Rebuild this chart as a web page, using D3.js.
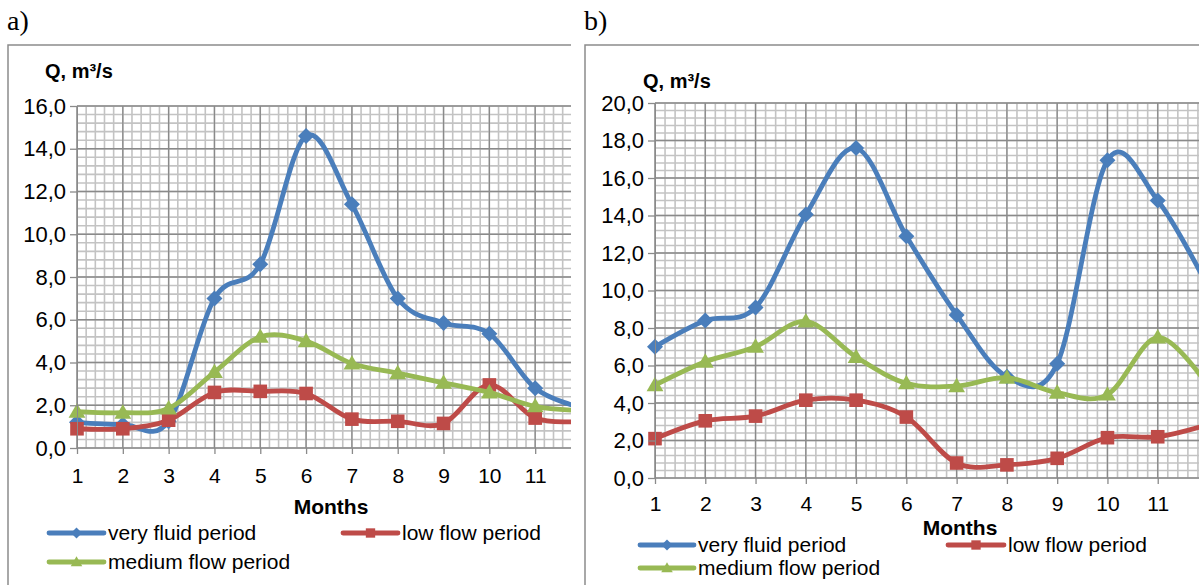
<!DOCTYPE html>
<html>
<head>
<meta charset="utf-8">
<script src="https://d3js.org/d3.v7.min.js"></script>
<style>
  body { margin: 0; background: #fff; }
  text { font-family: "Liberation Sans", Arial, sans-serif; fill: #000; }
</style>
</head>
<body>
<script>
// data
const months = [1, 2, 3, 4, 5, 6, 7, 8, 9, 10, 11, 12];
const seriesNames = ["very fluid period", "low flow period", "medium flow period"];
const seriesColors = ["#4A7EBB", "#BE4B48", "#98B954"];
const seriesMarkers = ["diamond", "square", "triangle"];

const aVeryFluid = [1.2, 1.1, 1.25, 7.0, 8.6, 14.6, 11.4, 7.0, 5.85, 5.35, 2.8, 1.9];
const aLowFlow   = [0.9, 0.9, 1.3, 2.6, 2.65, 2.55, 1.35, 1.25, 1.15, 2.95, 1.4, 1.25];
const aMedium    = [1.7, 1.65, 1.85, 3.55, 5.2, 5.0, 3.95, 3.5, 3.05, 2.6, 1.95, 1.75];

const bVeryFluid = [7.0, 8.4, 9.1, 14.05, 17.6, 12.9, 8.7, 5.4, 6.1, 16.95, 14.8, 10.2];
const bLowFlow   = [2.1, 3.05, 3.3, 4.15, 4.15, 3.25, 0.8, 0.7, 1.05, 2.15, 2.2, 2.85];
const bMedium    = [4.95, 6.2, 7.0, 8.35, 6.45, 5.05, 4.9, 5.35, 4.55, 4.45, 7.5, 4.9];

const svg = d3.select("body").append("svg").attr("width", 1199).attr("height", 585);

const panels = [
  {label: "a)", frameX: 8, frameY: 45, clipRight: 571, yMax: 16,
   xRange: [77, 581], yRange: [448, 106],
   data: [aVeryFluid, aLowFlow, aMedium],
   titleX: 45, titleY: 78, xLabelOffset: 20, monthsX: 331, monthsY: 514,
   legendRows: [533, 562], legendCols: [[49, 104], [343, 398]]},
  {label: "b)", frameX: 585, frameY: 45, clipRight: 1199, yMax: 20,
   xRange: [655, 1208], yRange: [478, 103],
   data: [bVeryFluid, bLowFlow, bMedium],
   titleX: 643, titleY: 88, xLabelOffset: 18, monthsX: 960, monthsY: 535,
   legendRows: [545, 568], legendCols: [[640, 694], [948, 1004]]}
];

function markerPath(type, s) {
  if (type === "diamond") return `M0,${-s}L${s},0L0,${s}L${-s},0Z`;
  if (type === "square") return `M${-s * 0.85},${-s * 0.85}h${s * 1.7}v${s * 1.7}h${-s * 1.7}Z`;
  return `M0,${-s * 1.05}L${s * 1.05},${s * 0.75}L${-s * 1.05},${s * 0.75}Z`;
}

panels.forEach((p, pi) => {
  const x = d3.scaleLinear().domain([1, 12]).range(p.xRange);
  const y = d3.scaleLinear().domain([0, p.yMax]).range(p.yRange);
  const g = svg.append("g");

  // panel letter and frame
  g.append("text").attr("x", p.frameX - 1).attr("y", 30)
    .style("font-family", "'Liberation Serif', 'Times New Roman', serif").style("font-size", "28px")
    .text(p.label);
  g.append("path")
    .attr("d", `M${p.frameX},585V${p.frameY}H${p.clipRight}`)
    .attr("fill", "none").attr("stroke", "#8c8c8c").attr("stroke-width", 1.5);

  const clipId = "clip" + pi;
  svg.append("clipPath").attr("id", clipId).append("rect")
    .attr("x", p.xRange[0] - 10).attr("y", p.yRange[1] - 10)
    .attr("width", p.clipRight - p.xRange[0] + 10).attr("height", p.yRange[0] - p.yRange[1] + 20);

  const plot = g.append("g").attr("clip-path", `url(#${clipId})`);
  const xMaxGrid = x.invert(p.clipRight + 20);

  // minor grid
  const minorX = d3.range(0, Math.ceil((xMaxGrid - 1) * 5) + 1).map(i => 1 + i * 0.2);
  const minorY = d3.range(0, p.yMax * 2.5 + 1).map(i => i * 0.4);
  plot.selectAll(".mx").data(minorX).join("line")
    .attr("x1", d => x(d)).attr("x2", d => x(d))
    .attr("y1", y(0)).attr("y2", y(p.yMax))
    .attr("stroke", "#c3c3c3").attr("stroke-width", 1.6);
  plot.selectAll(".my").data(minorY).join("line")
    .attr("x1", x(1)).attr("x2", x(xMaxGrid))
    .attr("y1", d => y(d)).attr("y2", d => y(d))
    .attr("stroke", "#c3c3c3").attr("stroke-width", 1.6);

  // major grid
  const majorY = d3.range(0, p.yMax + 1, 2);
  plot.selectAll(".gx").data(months).join("line")
    .attr("x1", d => x(d)).attr("x2", d => x(d))
    .attr("y1", y(0)).attr("y2", y(p.yMax))
    .attr("stroke", "#8a8a8a").attr("stroke-width", 1.3);
  plot.selectAll(".gy").data(majorY).join("line")
    .attr("x1", x(1)).attr("x2", x(xMaxGrid))
    .attr("y1", d => y(d)).attr("y2", d => y(d))
    .attr("stroke", "#8a8a8a").attr("stroke-width", 1.3);

  // axes
  const yAxis = d3.axisLeft(y).tickValues(majorY).tickSize(7).tickPadding(4)
    .tickFormat(d => d.toFixed(1).replace(".", ","));
  const ya = g.append("g").attr("transform", `translate(${x(1)},0)`).call(yAxis);
  ya.select(".domain").attr("stroke", "#8a8a8a");
  ya.selectAll(".tick line").attr("stroke", "#8a8a8a").attr("stroke-width", 1.3);
  ya.selectAll("text").style("font-size", "22px").style("font-family", "'Liberation Sans', Arial, sans-serif");

  const shownMonths = months.filter(m => x(m) < p.clipRight - 5);
  const xAxis = d3.axisBottom(x).tickValues(shownMonths).tickSize(6).tickPadding(p.xLabelOffset - 6)
    .tickFormat(d3.format("d"));
  const xa = g.append("g").attr("transform", `translate(0,${y(0)})`).call(xAxis);
  xa.select(".domain").remove();
  xa.selectAll(".tick line").attr("stroke", "#8a8a8a").attr("stroke-width", 1.3);
  xa.selectAll("text").style("font-size", "21px").style("font-family", "'Liberation Sans', Arial, sans-serif");

  // titles
  g.append("text").attr("x", p.titleX).attr("y", p.titleY)
    .style("font-size", "20px").style("font-weight", "bold")
    .text("Q, m³/s");
  g.append("text").attr("x", p.monthsX).attr("y", p.monthsY)
    .attr("text-anchor", "middle")
    .style("font-size", "21px").style("font-weight", "bold")
    .text("Months");

  // series
  const line = d3.line().x((d, i) => x(months[i])).y(d => y(d)).curve(d3.curveCardinal.tension(0));
  p.data.forEach((vals, si) => {
    const s = plot.append("g");
    s.append("path").datum(vals).attr("d", line)
      .attr("fill", "none").attr("stroke", seriesColors[si]).attr("stroke-width", 4.8)
      .attr("stroke-linejoin", "round").attr("stroke-linecap", "round");
    s.selectAll("path.m").data(vals).join("path")
      .attr("class", "m")
      .attr("transform", (d, i) => `translate(${x(months[i])},${y(d)})`)
      .attr("d", markerPath(seriesMarkers[si], 8))
      .attr("fill", seriesColors[si]);
  });

  // legend
  const legendPos = [[0, 0], [0, 1], [1, 0]];
  seriesNames.forEach((name, si) => {
    const [row, col] = legendPos[si];
    const [lx0, lx1] = p.legendCols[col];
    const ly = p.legendRows[row];
    const lg = g.append("g");
    lg.append("line").attr("x1", lx0).attr("x2", lx1).attr("y1", ly).attr("y2", ly)
      .attr("stroke", seriesColors[si]).attr("stroke-width", 4.8).attr("stroke-linecap", "round");
    lg.append("path").attr("transform", `translate(${(lx0 + lx1) / 2},${ly})`)
      .attr("d", markerPath(seriesMarkers[si], 5.5)).attr("fill", seriesColors[si]);
    lg.append("text").attr("x", lx1 + 4).attr("y", ly + 7)
      .style("font-size", "21px").text(name);
  });
});
</script>
</body>
</html>
